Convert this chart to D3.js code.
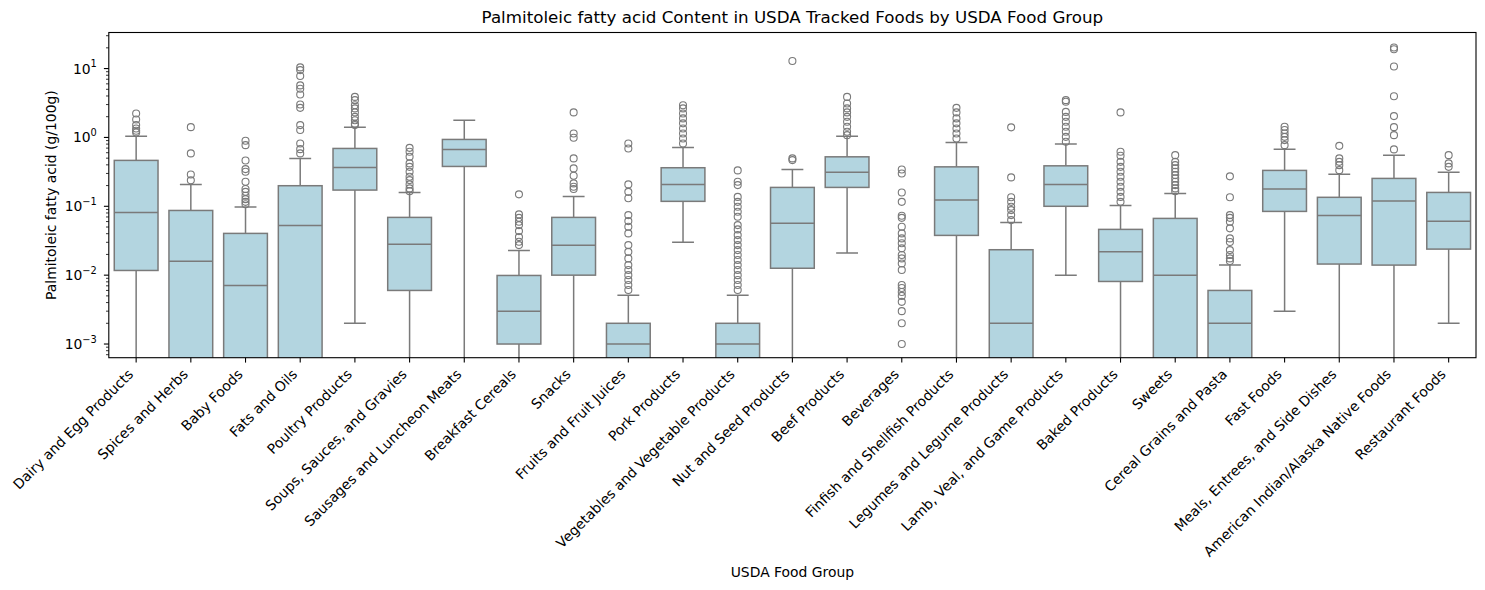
<!DOCTYPE html>
<html>
<head>
<meta charset="utf-8">
<script src="https://cdn.jsdelivr.net/npm/d3@7"></script>
<style>
  html, body { margin: 0; padding: 0; background: #fff; }
  svg { display: block; font-family: "DejaVu Sans", sans-serif; }
</style>
</head>
<body>
<svg id="chart" width="1485" height="590"></svg>
<script>
const categories = [
  "Dairy and Egg Products", "Spices and Herbs", "Baby Foods", "Fats and Oils",
  "Poultry Products", "Soups, Sauces, and Gravies", "Sausages and Luncheon Meats",
  "Breakfast Cereals", "Snacks", "Fruits and Fruit Juices", "Pork Products",
  "Vegetables and Vegetable Products", "Nut and Seed Products", "Beef Products",
  "Beverages", "Finfish and Shellfish Products", "Legumes and Legume Products",
  "Lamb, Veal, and Game Products", "Baked Products", "Sweets",
  "Cereal Grains and Pasta", "Fast Foods", "Meals, Entrees, and Side Dishes",
  "American Indian/Alaska Native Foods", "Restaurant Foods"
];
const whiskerLow = [0, 0, 0, 0, 0.002, 0, 0, 0, 0, 0, 0.03, 0, 0, 0.021, 0, 0, 0, 0.01, 0, 0, 0, 0.003, 0, 0, 0.002];
const q1 = [0.0117, 0, 0, 0, 0.172, 0.006, 0.379, 0.001, 0.01, 0, 0.118, 0, 0.0126, 0.188, 0, 0.0378, 0, 0.1, 0.0081, 0, 0, 0.0843, 0.0145, 0.014, 0.0239];
const medians = [0.0815, 0.0159, 0.0071, 0.0528, 0.367, 0.028, 0.67, 0.003, 0.0271, 0.001, 0.208, 0.001, 0.0565, 0.313, 0, 0.123, 0.002, 0.208, 0.0218, 0.01, 0.002, 0.178, 0.0738, 0.119, 0.0604];
const q3 = [0.464, 0.087, 0.0404, 0.199, 0.692, 0.069, 0.935, 0.0099, 0.069, 0.002, 0.363, 0.002, 0.188, 0.523, 0, 0.374, 0.0234, 0.387, 0.0462, 0.0667, 0.006, 0.332, 0.135, 0.254, 0.159];
const whiskerHigh = [1.04, 0.208, 0.0973, 0.496, 1.40, 0.159, 1.77, 0.0229, 0.139, 0.0051, 0.716, 0.0051, 0.343, 1.04, 0, 0.846, 0.0584, 0.8, 0.103, 0.154, 0.014, 0.676, 0.293, 0.553, 0.313];
const outliers = [
  [2.23, 1.82, 1.51, 1.35, 1.25, 1.18],
  [1.41, 0.586, 0.29, 0.238],
  [0.893, 0.773, 0.463, 0.347, 0.317, 0.227, 0.178, 0.162, 0.142, 0.127, 0.116, 0.107],
  [10.4, 9.5, 7.8, 5.7, 5.1, 4.2, 3.0, 2.69, 1.51, 1.28, 0.818, 0.676, 0.586],
  [3.88, 3.48, 2.94, 2.64, 2.31, 1.99, 1.78, 1.58, 1.51],
  [0.706, 0.618, 0.523, 0.42, 0.374, 0.317, 0.268, 0.24, 0.208, 0.182, 0.166],
  [],
  [0.149, 0.0763, 0.068, 0.0596, 0.0533, 0.0436, 0.0357, 0.0305, 0.0273],
  [2.31, 1.14, 0.987, 0.496, 0.355, 0.277, 0.215, 0.192, 0.178],
  [0.818, 0.692, 0.208, 0.162, 0.131, 0.0745, 0.061, 0.0504, 0.0404, 0.0273, 0.0218, 0.0175, 0.014, 0.0119, 0.01, 0.0085, 0.0072, 0.0061],
  [2.94, 2.64, 2.23, 1.89, 1.6, 1.35, 1.14, 0.967, 0.818],
  [0.332, 0.227, 0.203, 0.137, 0.116, 0.0984, 0.0832, 0.0704, 0.0533, 0.0462, 0.0382, 0.0323, 0.0273, 0.0231, 0.0196, 0.0166, 0.014, 0.0119, 0.01, 0.0085, 0.0072, 0.0061],
  [12.9, 0.496, 0.469],
  [3.88, 3.11, 2.64, 2.31, 1.99, 1.69, 1.43, 1.21, 1.08],
  [0.343, 0.3, 0.159, 0.116, 0.0728, 0.068, 0.0504, 0.0404, 0.0342, 0.029, 0.0245, 0.0196, 0.0175, 0.0148, 0.0119, 0.0072, 0.0065, 0.0057, 0.005, 0.0041, 0.003, 0.002, 0.001],
  [2.69, 2.31, 1.89, 1.6, 1.35, 1.14, 0.967],
  [1.40, 0.263, 0.135, 0.116, 0.0984, 0.0881, 0.0745, 0.063],
  [3.48, 3.29, 2.35, 1.99, 1.69, 1.43, 1.21, 1.02, 0.864],
  [2.31, 0.618, 0.541, 0.442, 0.374, 0.317, 0.268, 0.227, 0.192, 0.162, 0.137, 0.116],
  [0.553, 0.442, 0.396, 0.355, 0.317, 0.284, 0.254, 0.227, 0.203, 0.182, 0.166],
  [0.272, 0.135, 0.0745, 0.068, 0.0596, 0.0478, 0.0342, 0.0303, 0.0231, 0.0196, 0.0175, 0.016],
  [1.43, 1.28, 1.14, 1.02, 0.914, 0.773],
  [0.755, 0.496, 0.442, 0.396, 0.335],
  [20.2, 19.1, 10.7, 3.97, 2.04, 1.41, 1.08, 0.67],
  [0.553, 0.42, 0.374]
];
const yTickExponents = [-3, -2, -1, 0, 1];

const svg = d3.select("#chart");
const pLeft = 108.8, pRight = 1476, pTop = 32.5, pBottom = 357.7;
const lineColor = "#7a7a7a";
const fillColor = "#b3d5e0";
const fontSize = 13.9;

const x = d3.scaleBand().domain(categories).range([pLeft, pRight]).paddingInner(0).paddingOuter(0);
const y = d3.scaleLog().domain([0.000633, 33.4]).range([pBottom, pTop]);
const yv = v => (v > 0 ? y(v) : pBottom + 20);

svg.append("defs").append("clipPath").attr("id", "plotclip")
  .append("rect").attr("x", pLeft).attr("y", pTop).attr("width", pRight - pLeft).attr("height", pBottom - pTop);

const plot = svg.append("g").attr("clip-path", "url(#plotclip)");
const bw = x.bandwidth() * 0.8;

categories.forEach((c, i) => {
  const cx = x(c) + x.bandwidth() / 2;
  const g = plot.append("g");
  g.append("line").attr("x1", cx).attr("x2", cx).attr("y1", yv(q3[i])).attr("y2", yv(whiskerHigh[i]))
    .attr("stroke", lineColor).attr("stroke-width", 1.5);
  g.append("line").attr("x1", cx).attr("x2", cx).attr("y1", yv(q1[i])).attr("y2", yv(whiskerLow[i]))
    .attr("stroke", lineColor).attr("stroke-width", 1.5);
  g.append("line").attr("x1", cx - bw / 4).attr("x2", cx + bw / 4).attr("y1", yv(whiskerHigh[i])).attr("y2", yv(whiskerHigh[i]))
    .attr("stroke", lineColor).attr("stroke-width", 1.5);
  g.append("line").attr("x1", cx - bw / 4).attr("x2", cx + bw / 4).attr("y1", yv(whiskerLow[i])).attr("y2", yv(whiskerLow[i]))
    .attr("stroke", lineColor).attr("stroke-width", 1.5);
  const yt = yv(q3[i]), yb = yv(q1[i]);
  g.append("rect").attr("x", cx - bw / 2).attr("y", yt).attr("width", bw).attr("height", Math.max(0, yb - yt))
    .attr("fill", fillColor).attr("stroke", lineColor).attr("stroke-width", 1.5);
  g.append("line").attr("x1", cx - bw / 2).attr("x2", cx + bw / 2).attr("y1", yv(medians[i])).attr("y2", yv(medians[i]))
    .attr("stroke", lineColor).attr("stroke-width", 1.5);
  g.selectAll("circle.f").data(outliers[i]).enter().append("circle")
    .attr("cx", cx).attr("cy", d => y(d)).attr("r", 3.5)
    .attr("fill", "none").attr("stroke", lineColor).attr("stroke-width", 1.1);
});

svg.append("rect").attr("x", pLeft).attr("y", pTop).attr("width", pRight - pLeft).attr("height", pBottom - pTop)
  .attr("fill", "none").attr("stroke", "#000").attr("stroke-width", 1.1);

const minorVals = [];
for (let e = -4; e <= 1; e++) {
  for (let k = 2; k <= 9; k++) {
    const v = k * Math.pow(10, e);
    if (v >= y.domain()[0] && v <= y.domain()[1]) minorVals.push(v);
  }
}
const yAxisG = svg.append("g");
yAxisG.selectAll("line.minor").data(minorVals).enter().append("line")
  .attr("x1", pLeft - 2.8).attr("x2", pLeft).attr("y1", d => y(d)).attr("y2", d => y(d))
  .attr("stroke", "#000").attr("stroke-width", 0.8);
yAxisG.selectAll("line.major").data(yTickExponents).enter().append("line")
  .attr("x1", pLeft - 4.9).attr("x2", pLeft).attr("y1", d => y(Math.pow(10, d))).attr("y2", d => y(Math.pow(10, d)))
  .attr("stroke", "#000").attr("stroke-width", 1.1);
yTickExponents.forEach(e => {
  const t = yAxisG.append("text").attr("x", pLeft - 12).attr("y", y(Math.pow(10, e)) + 5)
    .attr("text-anchor", "end").attr("font-size", fontSize).attr("fill", "#000");
  t.append("tspan").text("10");
  t.append("tspan").attr("dy", -6.5).attr("font-size", 9.8).text(e < 0 ? "\u2212" + Math.abs(e) : String(e));
});

const xAxisG = svg.append("g");
categories.forEach(c => {
  const cx = x(c) + x.bandwidth() / 2;
  xAxisG.append("line").attr("x1", cx).attr("x2", cx).attr("y1", pBottom).attr("y2", pBottom + 4.9)
    .attr("stroke", "#000").attr("stroke-width", 1.1);
  xAxisG.append("text")
    .attr("transform", `translate(${cx - 2},${pBottom + 17.5}) rotate(-45)`)
    .attr("text-anchor", "end").attr("font-size", fontSize).attr("fill", "#000")
    .text(c);
});

svg.append("text").attr("x", (pLeft + pRight) / 2).attr("y", 23).attr("text-anchor", "middle")
  .attr("font-size", 16.7).attr("fill", "#000")
  .text("Palmitoleic fatty acid Content in USDA Tracked Foods by USDA Food Group");
svg.append("text").attr("x", (pLeft + pRight) / 2).attr("y", 577).attr("text-anchor", "middle")
  .attr("font-size", fontSize).attr("fill", "#000").text("USDA Food Group");
svg.append("text").attr("transform", `translate(56,${(pTop + pBottom) / 2}) rotate(-90)`).attr("text-anchor", "middle")
  .attr("font-size", fontSize).attr("fill", "#000").text("Palmitoleic fatty acid (g/100g)");
</script>
</body>
</html>
